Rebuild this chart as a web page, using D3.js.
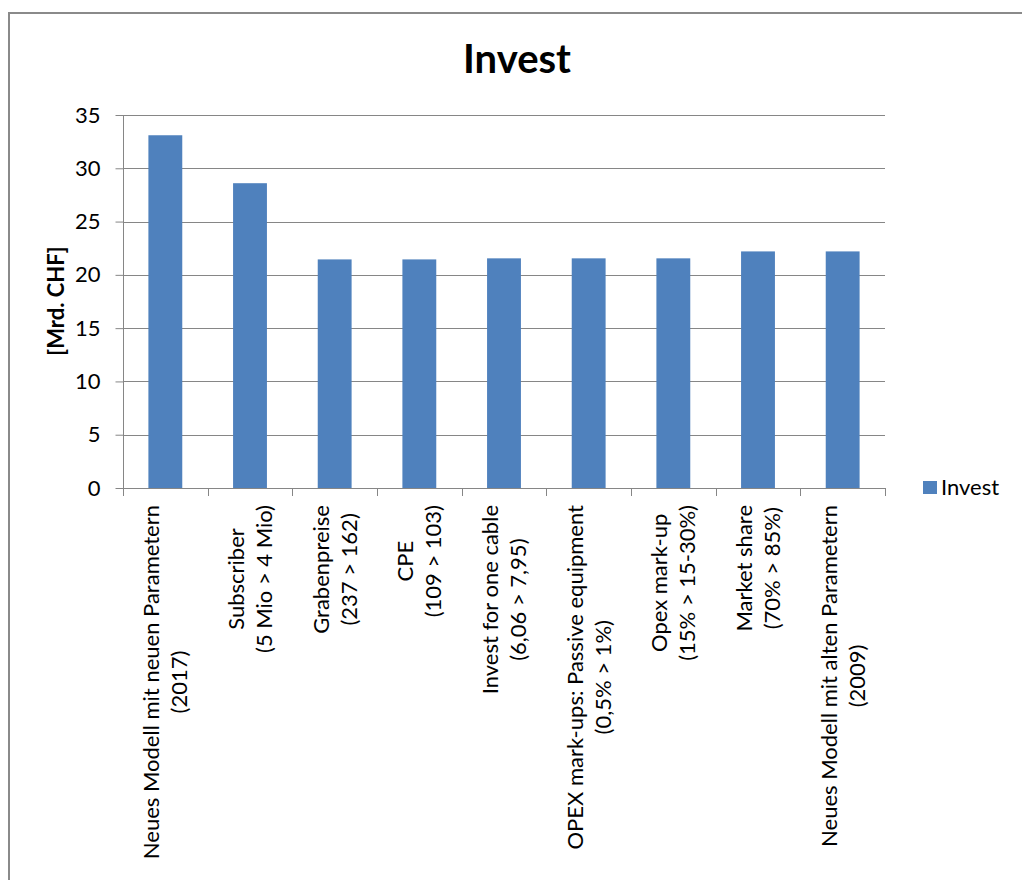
<!DOCTYPE html>
<html><head><meta charset="utf-8">
<script src="https://cdn.jsdelivr.net/npm/d3@7"></script>
<style>html,body{margin:0;padding:0;background:#fff;} svg{display:block;}</style>
</head><body>
<script>
const categories = [
  ["Neues Modell mit neuen Parametern", "(2017)"],
  ["Subscriber", "(5 Mio > 4 Mio)"],
  ["Grabenpreise", "(237 > 162)"],
  ["CPE", "(109 > 103)"],
  ["Invest for one cable", "(6,06 > 7,95)"],
  ["OPEX mark-ups: Passive equipment", "(0,5% > 1%)"],
  ["Opex mark-up", "(15% > 15-30%)"],
  ["Market share", "(70% > 85%)"],
  ["Neues Modell mit alten Parametern", "(2009)"]
];
const investValues = [33.1, 28.6, 21.45, 21.45, 21.55, 21.55, 21.55, 22.2, 22.2];
const yTicks = [0, 5, 10, 15, 20, 25, 30, 35];
const seriesName = "Invest";
const chartTitle = "Invest";
const yAxisTitle = "[Mrd. CHF]";

const W = 1022, H = 880;
const FONT = "Lato, 'Liberation Sans', sans-serif";
const FS = 22;
const svg = d3.select("body").append("svg").attr("width", W).attr("height", H);
svg.append("rect").attr("width", W).attr("height", H).attr("fill", "#fff");

// chart border
svg.append("rect").attr("x", 9).attr("y", 13).attr("width", W + 20).attr("height", H + 20)
  .attr("fill", "none").attr("stroke", "#8a8a8a").attr("stroke-width", 2);

const plot = {left: 123, right: 885, top: 115, bottom: 488};
const x = d3.scaleBand().domain(d3.range(categories.length))
  .range([plot.left, plot.right]).paddingInner(0.6).paddingOuter(0.3);
const y = d3.scaleLinear().domain([0, 35]).range([plot.bottom, plot.top]);

// gridlines
svg.append("g").selectAll("line").data(yTicks.filter(d => d > 0)).join("line")
  .attr("x1", plot.left).attr("x2", plot.right)
  .attr("y1", d => Math.round(y(d)) + 0.5).attr("y2", d => Math.round(y(d)) + 0.5)
  .attr("stroke", "#868686").attr("stroke-width", 1);

// bars
svg.append("g").selectAll("rect").data(investValues).join("rect")
  .attr("x", (d, i) => x(i)).attr("width", x.bandwidth())
  .attr("y", d => y(d)).attr("height", d => y(0) - y(d))
  .attr("fill", "#4F81BD");

// y axis
const yAxis = d3.axisLeft(y).tickValues(yTicks).tickSize(8).tickPadding(15);
const gy = svg.append("g").attr("transform", `translate(${plot.left + 0.5},0)`).call(yAxis);
gy.select(".domain").attr("stroke", "#868686").attr("d", `M0,${plot.top}V${plot.bottom}`);
gy.selectAll(".tick line").attr("stroke", "#868686");
gy.selectAll(".tick text").attr("font-family", FONT).attr("font-size", FS).attr("fill", "#000");

// x axis line + ticks at boundaries
const step = x.step();
const gx = svg.append("g");
gx.append("line").attr("x1", plot.left).attr("x2", plot.right)
  .attr("y1", plot.bottom + 0.5).attr("y2", plot.bottom + 0.5).attr("stroke", "#868686");
gx.selectAll("line.tk").data(d3.range(categories.length + 1)).join("line").attr("class", "tk")
  .attr("x1", i => Math.round(plot.left + i * step) + 0.5).attr("x2", i => Math.round(plot.left + i * step) + 0.5)
  .attr("y1", plot.bottom).attr("y2", plot.bottom + 8).attr("stroke", "#868686");

// category labels (rotated, lines centered, block end at top)
const labelTop = 505;
const lineGap = 28;
categories.forEach((lines, i) => {
  const cx = x(i) + x.bandwidth() / 2;
  const g = svg.append("g");
  const n = lines.length;
  const texts = lines.map((t, k) => {
    const bx = cx + (k - (n - 1) / 2) * lineGap + 8;
    return g.append("text").attr("font-family", FONT).attr("font-size", FS).attr("fill", "#000")
      .attr("text-anchor", "middle").text(t).attr("data-bx", bx);
  });
  const widths = texts.map(t => t.node().getComputedTextLength());
  const maxW = d3.max(widths);
  const centerY = labelTop + maxW / 2;
  texts.forEach(t => {
    const bx = +t.attr("data-bx");
    t.attr("transform", `translate(${bx},${centerY}) rotate(-90)`);
  });
});

// title
svg.append("text").attr("x", 517).attr("y", 73).attr("text-anchor", "middle")
  .attr("font-family", FONT).attr("font-weight", "bold").attr("font-size", 40).text(chartTitle);

// y axis title
svg.append("text").attr("transform", `translate(64,301) rotate(-90)`).attr("text-anchor", "middle")
  .attr("font-family", FONT).attr("font-weight", "bold").attr("font-size", FS).text(yAxisTitle);

// legend
svg.append("rect").attr("x", 923).attr("y", 481).attr("width", 14).attr("height", 13).attr("fill", "#4F81BD");
svg.append("text").attr("x", 941).attr("y", 495).attr("font-family", FONT).attr("font-size", FS).text(seriesName);
</script>
</body></html>
